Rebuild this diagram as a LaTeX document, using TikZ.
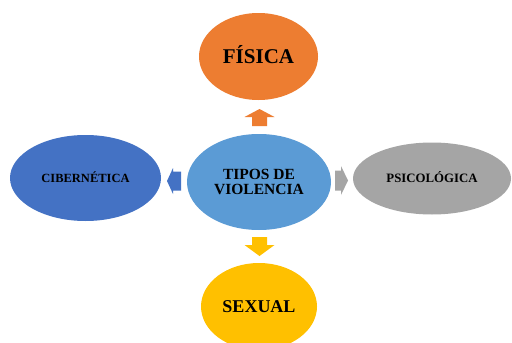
\documentclass[tikz,border=0pt]{standalone}
\usepackage{fontspec}
\setmainfont{Liberation Serif}
\definecolor{cfis}{HTML}{ED7D31}
\definecolor{ccen}{HTML}{5B9BD5}
\definecolor{ccib}{HTML}{4472C4}
\definecolor{cpsi}{HTML}{A5A5A5}
\definecolor{csex}{HTML}{FFC000}
\begin{document}
\begin{tikzpicture}[x=1pt,y=-1pt,
  ell/.style={ellipse, inner sep=0pt, text=black, font=\bfseries},
  fsz/.style={font=\bfseries\fontsize{#1}{#1}\selectfont}]
\usetikzlibrary{shapes.geometric}
\fill[white] (0,0) rectangle (512,343);
\useasboundingbox (0,0) rectangle (512,343);
\clip (0,0) rectangle (512,343);
% ellipses
\node[ell, fill=cfis, minimum width=119pt, minimum height=87pt, fsz=21, text height=14pt, text depth=0pt] (fisica) at (258.5,56.5) {FÍSICA};
\node[ell, fill=ccen, minimum width=144pt, minimum height=96pt, fsz=15.5, align=center] (centro) at (259,182) {TIPOS DE\\[-1pt]VIOLENCIA};
\node[ell, fill=ccib, minimum width=151pt, minimum height=86pt, fsz=12.5, text height=8.5pt, text depth=0pt] (ciber) at (85.5,178) {CIBERNÉTICA};
\node[ell, fill=cpsi, minimum width=158pt, minimum height=72pt, fsz=12.8, text height=8.5pt, text depth=0pt] (psico) at (432,178.5) {PSICOLÓGICA};
\node[ell, fill=csex, minimum width=116pt, minimum height=87pt, fsz=18, text height=12pt, text depth=0pt] (sexual) at (259,306.5) {SEXUAL};
% block arrows
\coordinate (aup) at (259.5,109);
\coordinate (adn) at (259.5,256);
\coordinate (alf) at (167,181);
\coordinate (art) at (348,180.5);
\fill[cfis] (aup) -- ++(15,8) -- ++(-7.5,0) -- ++(0,9) -- ++(-15,0) -- ++(0,-9) -- ++(-7.5,0) -- cycle;
\fill[csex] (adn) -- ++(15,-11) -- ++(-7.5,0) -- ++(0,-8) -- ++(-15,0) -- ++(0,8) -- ++(-7.5,0) -- cycle;
\fill[ccib] (alf) -- ++(6,-13) -- ++(0,3.5) -- ++(8,0) -- ++(0,19) -- ++(-8,0) -- ++(0,3.5) -- cycle;
\fill[cpsi] (art) -- ++(-7,-14.5) -- ++(0,4.5) -- ++(-6,0) -- ++(0,20) -- ++(6,0) -- ++(0,4.5) -- cycle;
\end{tikzpicture}
\end{document}
